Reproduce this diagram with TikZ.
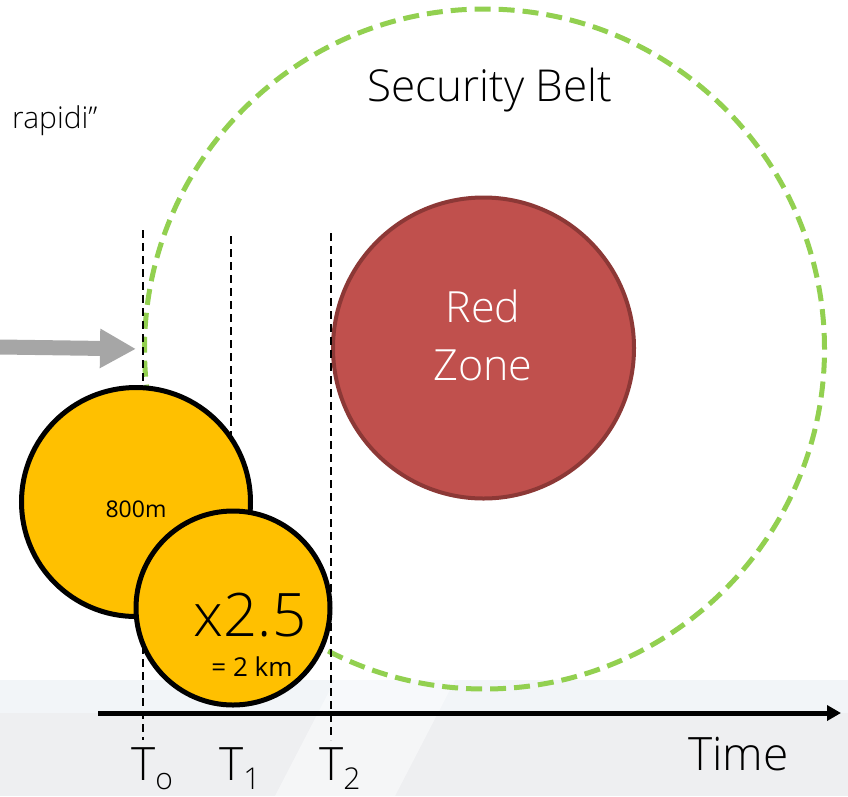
\documentclass[tikz,border=0pt]{standalone}
\usepackage{fontspec}
\setmainfont{Open Sans}[UprightFont=* Light]
\newfontfamily\regfont{Open Sans}
\usetikzlibrary{arrows.meta}

\definecolor{beltgreen}{HTML}{92D050}
\definecolor{zonered}{HTML}{C0504D}
\definecolor{zoneedge}{HTML}{8C3836}
\definecolor{blobyellow}{HTML}{FFC000}
\definecolor{pushgray}{HTML}{A6A6A6}
\definecolor{bandlight}{HTML}{F2F5F8}
\definecolor{bandgray}{HTML}{EEEFF1}

\newcommand{\fs}[1]{\fontsize{#1}{#1}\selectfont}
\newcommand{\tsub}[1]{\raisebox{-.2em}{\fs{30}#1}}

\tikzset{
  belt/.style={circle, draw=beltgreen, line width=5pt,
    dash pattern=on 16pt off 8pt, inner sep=0pt, minimum size=680pt},
  zone/.style={circle, fill=zonered, draw=zoneedge, line width=4pt,
    inner sep=0pt, minimum size=301pt},
  blob/.style={circle, fill=blobyellow, draw=black, line width=5pt,
    inner sep=0pt},
  tickline/.style={line width=1.8pt, dash pattern=on 8pt off 5pt},
  tlabel/.style={anchor=base, inner sep=0pt, font=\fs{46}},
}

\begin{document}
\begin{tikzpicture}[x=1pt, y=-1pt]
    \useasboundingbox (0,0) rectangle (848,796);

    % floor bands under the time axis
    \fill[bandlight] (0,680) rectangle (848,713);
    \fill[bandgray] (0,713) rectangle (848,796);
    \fill[white, opacity=.45] (335,680) -- (455,680) -- (395,796) -- (275,796) -- cycle;

    \node[belt] (belt) at (484.5,349) {};
    \node[zone] (zone) at (483.5,348) {};

    \node[anchor=base, inner sep=0pt, font=\fs{44}] (beltlab) at (490,101) {Security Belt};
    \node[anchor=base west, inner sep=0pt, font=\fs{30}] (quote) at (12,128) {rapidi”};
    \node[anchor=base, white, inner sep=0pt, font=\fs{43}] (redlab) at (483,322) {Red};
    \node[anchor=base, white, inner sep=0pt, font=\fs{43}] (zonelab) at (483,380) {Zone};

    % incoming push
    \coordinate (feed) at (0,347);
    \draw[pushgray, line width=15pt, -{Triangle[length=36pt, width=37pt]},
        shorten >=6pt] (feed) -- (belt.west);

    % time marks
    \coordinate (m0top) at (143,230);
    \coordinate (m0bot) at (143,740);
    \coordinate (m1top) at (231,236);
    \coordinate (m1bot) at (231,600);
    \coordinate (m2top) at (331,233);
    \coordinate (m2bot) at (331,740);
    \draw[tickline] (m0top) -- (m0bot);
    \draw[tickline] (m1top) -- (m1bot);
    \draw[tickline] (m2top) -- (m2bot);

    \coordinate (tstart) at (98,713);
    \coordinate (tend) at (841,713);
    \draw[line width=5pt, -{Triangle[length=14pt, width=15pt]}] (tstart) -- (tend);

    \node[blob, minimum size=229pt] (small) at (136,502) {};
    \node[anchor=base, inner sep=0pt, font=\regfont\fs{23}] (smalllab) at (136,517) {800m};

    \node[blob, minimum size=194pt] (big) at (233,608) {};
    \node[anchor=base, inner sep=0pt, font=\fs{60}] (factor) at (250,636) {x2.5};
    \node[anchor=base, inner sep=0pt, font=\regfont\fs{26}] (km) at (252,676) {= 2 km};

    \node[tlabel] (lab0) at (152,780) {T\tsub{o}};
    \node[tlabel] (lab1) at (240,780) {T\tsub{1}};
    \node[tlabel] (lab2) at (340,780) {T\tsub{2}};
    \node[anchor=base west, inner sep=0pt, font=\fs{46}] (timelab) at (688,770) {Time};
\end{tikzpicture}
\end{document}
